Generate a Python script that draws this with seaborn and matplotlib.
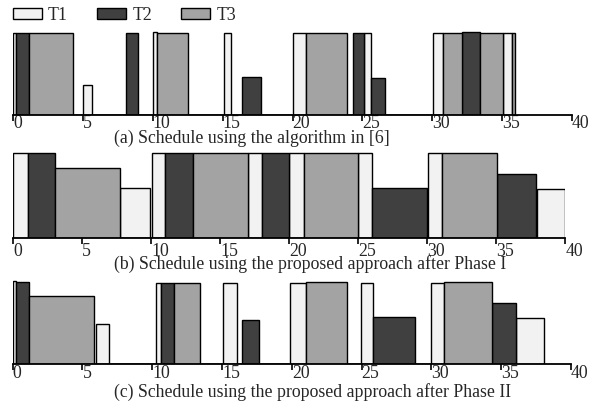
import numpy as np
import pandas as pd
import matplotlib
matplotlib.use("Agg")
import matplotlib.pyplot as plt
from matplotlib.patches import Patch
import seaborn as sns

# ---------------- data ----------------
tasks = ["T1", "T2", "T3"]
task_colors = {"T1": "#f2f2f2", "T2": "#404040", "T3": "#a3a3a3"}

# Panel (a): schedule using the algorithm in [6]
a_task  = ["T1", "T2", "T3", "T1", "T2", "T1", "T3", "T1", "T2", "T1",
           "T3", "T2", "T1", "T2", "T1", "T3", "T2", "T3", "T1", "T3"]
a_start = [0.0, 0.2, 1.15, 5.0, 8.1, 10.0, 10.3, 15.1, 16.35, 20.05,
           21.0, 24.3, 25.1, 25.65, 30.1, 30.75, 32.15, 33.4, 35.1, 35.75]
a_end   = [0.2, 1.15, 4.25, 5.65, 8.95, 10.3, 12.5, 15.6, 17.75, 21.0,
           23.9, 25.1, 25.65, 26.65, 30.75, 32.15, 33.4, 35.1, 35.75, 35.95]
a_height = [1.0, 1.0, 1.0, 0.37, 1.0, 1.01, 1.0, 1.0, 0.47, 1.0,
            1.0, 1.0, 1.0, 0.45, 1.0, 1.0, 1.02, 1.0, 1.0, 1.0]

# Panel (b): proposed approach after Phase I
b_task  = ["T1", "T2", "T3", "T1", "T1", "T2", "T3", "T1", "T2", "T1",
           "T3", "T1", "T2", "T1", "T3", "T2", "T1"]
b_start = [0.0, 1.05, 3.0, 7.75, 10.05, 11.0, 13.05, 17.0, 18.05, 20.0,
           21.05, 25.0, 26.0, 30.05, 31.05, 35.05, 37.95]
b_end   = [1.05, 3.0, 7.75, 9.9, 11.0, 13.05, 17.0, 18.05, 20.0, 21.05,
           25.0, 26.0, 29.95, 31.05, 35.05, 37.85, 39.95]
b_height = [1.0, 1.0, 0.83, 0.585, 1.0, 1.0, 1.0, 1.0, 1.0, 1.0,
            1.0, 1.0, 0.585, 1.0, 1.0, 0.755, 0.58]

# Panel (c): proposed approach after Phase II
c_task  = ["T1", "T2", "T3", "T1", "T1", "T2", "T3", "T1", "T2", "T1",
           "T3", "T1", "T2", "T1", "T3", "T2", "T1"]
c_start = [0.0, 0.25, 1.2, 5.95, 10.25, 10.6, 11.55, 15.1, 16.45, 19.9,
           21.0, 24.95, 25.8, 29.95, 30.9, 34.35, 36.05]
c_end   = [0.25, 1.2, 5.8, 6.9, 10.6, 11.55, 13.45, 16.05, 17.65, 21.0,
           23.95, 25.8, 28.8, 30.9, 34.35, 36.05, 38.1]
c_height = [1.02, 1.01, 0.84, 0.49, 1.0, 1.0, 1.0, 1.0, 0.54, 1.0,
            1.01, 1.0, 0.58, 1.0, 1.01, 0.75, 0.57]

xticks = [0, 5, 10, 15, 20, 25, 30, 35, 40]
captions = ["(a) Schedule using the algorithm in [6]",
            "(b) Schedule using the proposed approach after Phase I",
            "(c) Schedule using the proposed approach after Phase II"]

# ---------------- style ----------------
sns.set_style("white")
plt.rcParams["font.family"] = ["Liberation Serif", "DejaVu Serif"]
FS = 12.8

W, H = 597, 404
fig = plt.figure(figsize=(W / 100, H / 100), dpi=100)

YMAX = 1.06
# (x0 px, x40 px, baseline px, full-height top px, label pad, caption baseline px)
layout = [
    (13.3, 571.7, 115.0, 33.3, -4.3, 143.0),
    (13.3, 565.3, 237.7, 153.3, -0.5, 268.5),
    (12.7, 571.0, 364.0, 282.7, -3.0, 397.0),
]

panels = [
    pd.DataFrame({"task": a_task, "start": a_start, "end": a_end, "height": a_height}),
    pd.DataFrame({"task": b_task, "start": b_start, "end": b_end, "height": b_height}),
    pd.DataFrame({"task": c_task, "start": c_start, "end": c_end, "height": c_height}),
]

for df, (x0, x40, base, top, pad, capy), cap in zip(panels, layout, captions):
    unit = base - top
    ax = fig.add_axes([x0 / W, (H - base) / H, (x40 - x0) / W, unit * YMAX / H])
    for t in tasks:
        sub = df[df["task"] == t].sort_values("start")
        if sub.empty:
            continue
        edges = []
        for s, e in zip(sub["start"], sub["end"]):
            if not edges or abs(edges[-1] - s) > 1e-9:
                edges.append(s)
            edges.append(e)
        mids = ((sub["start"] + sub["end"]) / 2).to_numpy()
        sns.histplot(x=mids, weights=sub["height"].to_numpy(), bins=edges,
                     stat="count", element="bars", fill=True,
                     color=task_colors[t], edgecolor="black", linewidth=1.0,
                     alpha=1, ax=ax)
    ax.set_xlim(0, 40)
    ax.set_ylim(0, YMAX)
    ax.set_xlabel("")
    ax.set_ylabel("")
    ax.set_yticks([])
    ax.set_xticks(xticks)
    ax.set_xticklabels([str(v) for v in xticks], fontsize=FS, ha="left")
    ax.tick_params(axis="x", direction="out", length=4, width=1.2,
                   color="black", pad=pad, bottom=True)
    for side in ["left", "top", "right"]:
        ax.spines[side].set_visible(False)
    ax.spines["bottom"].set_color("black")
    ax.spines["bottom"].set_linewidth(1.3)
    ax.patch.set_alpha(0)
    fig.text(114 / W, 1 - capy / H, cap, fontsize=FS, ha="left", va="baseline")

handles = [Patch(facecolor=task_colors[t], edgecolor="black", linewidth=1.0, label=t)
           for t in tasks]
fig.legend(handles=handles, loc="upper left", ncol=3, frameon=False,
           bbox_to_anchor=(13 / W, 1 - 7 / H), borderpad=0, borderaxespad=0,
           fontsize=FS, handlelength=1.63, handleheight=0.6,
           handletextpad=0.34, columnspacing=1.65)

fig.savefig("out.png", dpi=100)
